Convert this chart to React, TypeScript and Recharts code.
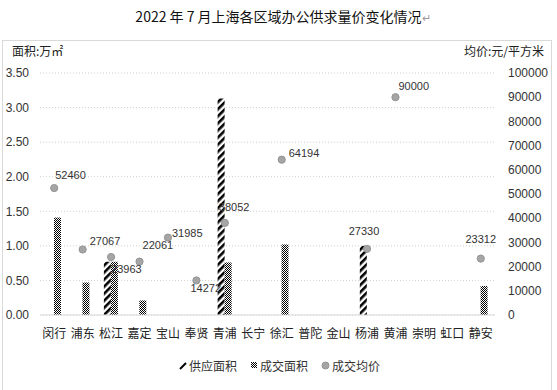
import React from "react";
import {
  ComposedChart,
  Bar,
  Line,
  XAxis,
  YAxis,
  CartesianGrid,
  Legend,
  LabelList,
} from "recharts";

const districts = ["闵行", "浦东", "松江", "嘉定", "宝山", "奉贤", "青浦", "长宁", "徐汇", "普陀", "金山", "杨浦", "黄浦", "崇明", "虹口", "静安"];
const supplyArea: (number | null)[] = [null, null, 0.77, null, null, null, 3.13, null, null, null, null, 1.0, null, null, null, null];
const dealArea: (number | null)[] = [1.41, 0.47, 0.77, 0.21, null, null, 0.76, null, 1.02, null, null, null, null, null, null, 0.42];
const dealPrice: (number | null)[] = [52460, 27067, 23963, 22061, 31985, 14272, 38052, null, 64194, null, null, 27330, 90000, null, null, 23312];
const leftTicks = [0, 0.5, 1, 1.5, 2, 2.5, 3, 3.5];
const rightTicks = [0, 10000, 20000, 30000, 40000, 50000, 60000, 70000, 80000, 90000, 100000];

// label placement (styling only): dx from dot centre, dy of text centre, anchor
const labelPlace: { dx: number; dy: number; anchor: string }[] = [
  { dx: 1, dy: -13, anchor: "start" },
  { dx: 7, dy: -8, anchor: "start" },
  { dx: 0, dy: 12, anchor: "start" },
  { dx: 3, dy: -16, anchor: "start" },
  { dx: 4, dy: -4, anchor: "start" },
  { dx: -6, dy: 8, anchor: "start" },
  { dx: -6, dy: -16, anchor: "start" },
  { dx: 0, dy: 0, anchor: "start" },
  { dx: 7, dy: -7, anchor: "start" },
  { dx: 0, dy: 0, anchor: "start" },
  { dx: 0, dy: 0, anchor: "start" },
  { dx: -3, dy: -18, anchor: "middle" },
  { dx: 3, dy: -11, anchor: "start" },
  { dx: 0, dy: 0, anchor: "start" },
  { dx: 0, dy: 0, anchor: "start" },
  { dx: 0, dy: -19, anchor: "middle" },
];

const data = districts.map((name, i) => ({
  name,
  supply: supplyArea[i],
  deal: dealArea[i],
  price: dealPrice[i],
}));

const FONT = "'Liberation Sans', Arial, 'Noto Sans CJK SC', sans-serif";
const CJK = "'Noto Sans CJK SC', 'Liberation Sans', sans-serif";

const PriceLabel = (props: any) => {
  const { x, y, value, index } = props;
  if (value == null) return null;
  const p = labelPlace[index];
  return (
    <text
      x={x + p.dx}
      y={y + p.dy}
      dy="0.35em"
      textAnchor={p.anchor}
      fontSize={11}
      fontFamily={FONT}
      fill="#333"
    >
      {value}
    </text>
  );
};

const LegendContent = () => (
  <div
    style={{
      display: "flex",
      justifyContent: "center",
      alignItems: "center",
      fontFamily: CJK,
      fontSize: 12,
      color: "#333",
      height: 20,
      paddingLeft: 2,
    }}
  >
    <svg width={8} height={10} style={{ marginRight: 2 }}>
      <line x1={1} y1={9} x2={7} y2={3} stroke="#000" strokeWidth={2} />
    </svg>
    <span style={{ marginRight: 13 }}>供应面积</span>
    <svg width={8} height={8} style={{ marginRight: 2 }}>
      <rect x={1} y={1} width={6} height={6} fill="url(#checkLeg)" />
      <defs>
        <pattern id="checkLeg" patternUnits="userSpaceOnUse" width={2} height={2}>
          <rect width={2} height={2} fill="#fff" />
          <rect width={1} height={1} fill="#000" />
          <rect x={1} y={1} width={1} height={1} fill="#000" />
        </pattern>
      </defs>
    </svg>
    <span style={{ marginRight: 13 }}>成交面积</span>
    <svg width={9} height={9} style={{ marginRight: 2 }}>
      <circle cx={4.5} cy={4.5} r={3.5} fill="#a5a5a5" stroke="#949494" />
    </svg>
    <span>成交均价</span>
  </div>
);

export default function App() {
  return (
    <div style={{ position: "absolute", left: 0, top: 0, width: 557, height: 390, background: "#fff" }}>
      <div
        style={{
          position: "absolute",
          left: 2,
          top: 40,
          width: 550,
          height: 360,
          border: "1px solid #d9d9d9",
          boxSizing: "border-box",
        }}
      />
      <div
        style={{
          position: "absolute",
          left: 0,
          top: 7,
          width: 566,
          textAlign: "center",
          fontFamily: CJK,
          fontSize: 14,
          color: "#111",
          lineHeight: "19px",
        }}
      >
        2022 年 7 月上海各区域办公供求量价变化情况<span style={{ color: "#999", fontSize: 11 }}>↵</span>
      </div>
      <div style={{ position: "absolute", left: 12, top: 42, fontFamily: CJK, fontSize: 12, color: "#222" }}>
        面积:万㎡
      </div>
      <div style={{ position: "absolute", right: 13, top: 42, fontFamily: CJK, fontSize: 12, color: "#222" }}>
        均价:元/平方米
      </div>
      <div style={{ position: "absolute", left: 0, top: 0 }}>
        <ComposedChart
          width={557}
          height={390}
          data={data}
          margin={{ top: 73, right: 0, left: 0, bottom: 45 }}
          barGap={0}
          barSize={7}
        >
          <defs>
            <pattern id="hatch" patternUnits="userSpaceOnUse" width={5} height={5} patternTransform="rotate(45)">
              <rect width={5} height={5} fill="#fff" />
              <rect width={2.6} height={5} fill="#000" />
            </pattern>
            <pattern id="check" patternUnits="userSpaceOnUse" width={2} height={2}>
              <rect width={2} height={2} fill="#fff" />
              <rect width={1} height={1} fill="#000" />
              <rect x={1} y={1} width={1} height={1} fill="#000" />
            </pattern>
          </defs>
          <CartesianGrid
            yAxisId="left"
            vertical={false}
            stroke="#d0d0d0"
            strokeDasharray="1 2"
          />
          <XAxis
            dataKey="name"
            interval={0}
            tickLine={false}
            tickSize={0}
            tickMargin={14}
            height={30}
            axisLine={{ stroke: "#d9d9d9" }}
            tick={{ fontSize: 12, fontFamily: CJK, fill: "#222" }}
          />
          <YAxis
            yAxisId="left"
            orientation="left"
            width={40}
            domain={[0, 3.5]}
            ticks={leftTicks}
            tickFormatter={(v: number) => v.toFixed(2)}
            axisLine={false}
            tickLine={false}
            tickSize={0}
            tickMargin={11}
            tick={{ fontSize: 12, fontFamily: FONT, fill: "#333" }}
          />
          <YAxis
            yAxisId="right"
            orientation="right"
            width={62}
            domain={[0, 100000]}
            ticks={rightTicks}
            axisLine={false}
            tickLine={false}
            tickSize={0}
            tickMargin={13}
            tick={{ fontSize: 12, fontFamily: FONT, fill: "#333" }}
          />
          <Bar yAxisId="left" dataKey="supply" name="供应面积" fill="url(#hatch)" isAnimationActive={false} />
          <Bar yAxisId="left" dataKey="deal" name="成交面积" fill="url(#check)" isAnimationActive={false} />
          <Line
            yAxisId="right"
            dataKey="price"
            name="成交均价"
            stroke="none"
            strokeWidth={0}
            connectNulls={false}
            dot={{ r: 3.6, fill: "#a5a5a5", stroke: "#949494", strokeWidth: 1 }}
            activeDot={false}
            isAnimationActive={false}
          >
            <LabelList dataKey="price" content={<PriceLabel />} />
          </Line>
          <Legend
            layout="horizontal"
            verticalAlign="middle"
            align="center"
            content={<LegendContent />}
            wrapperStyle={{ top: 355, left: 0, width: 557, height: 20 }}
          />
        </ComposedChart>
      </div>
    </div>
  );
}
